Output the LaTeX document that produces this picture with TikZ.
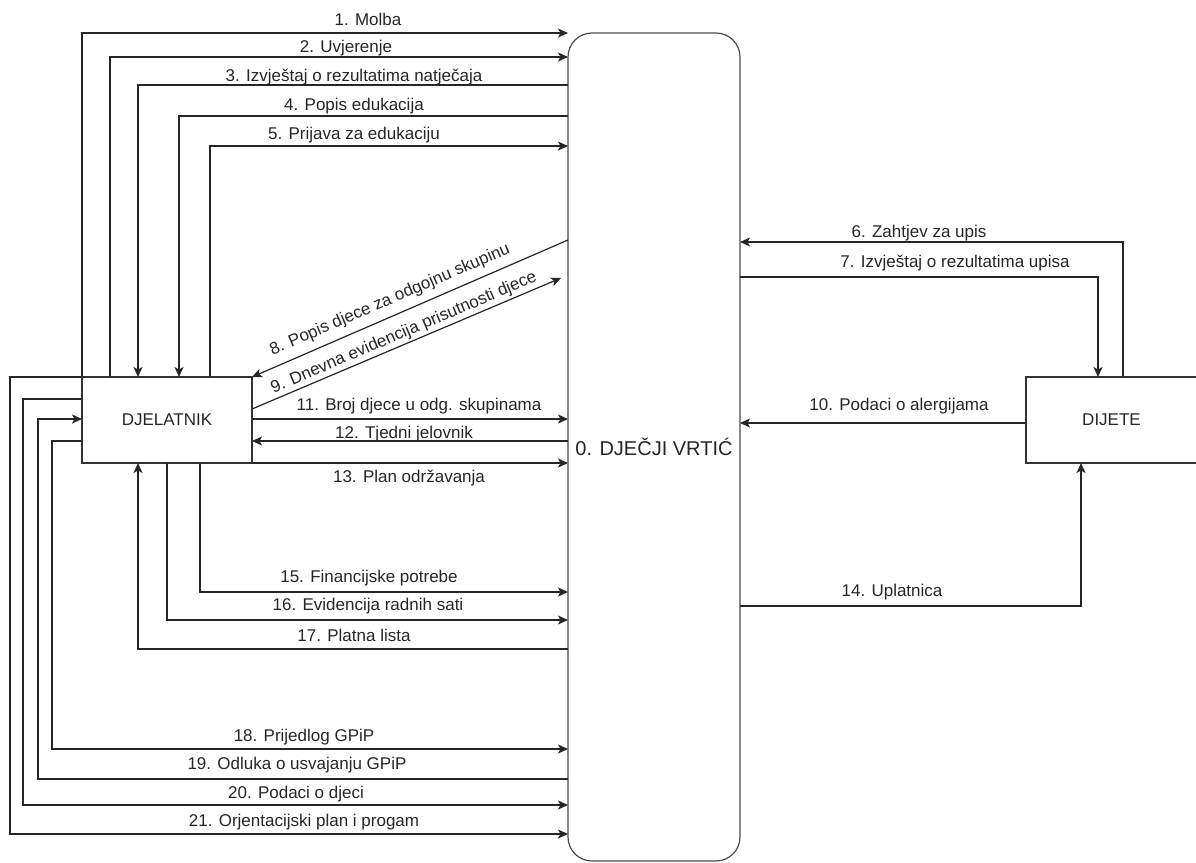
\documentclass[tikz,border=0pt]{standalone}
\usepackage{fontspec}
\setmainfont{Liberation Sans}
\usetikzlibrary{arrows.meta}
\begin{document}
\begin{tikzpicture}[x=1pt,y=-1pt,
  box/.style={draw=black!80, line width=1.2pt, inner sep=0pt, outer sep=0pt,
    minimum width=170pt, minimum height=86pt, text=black!85,
    font=\fontsize{17}{20}\selectfont},
  arr/.style={draw=black!85, line width=1.2pt, -{Stealth[length=10pt,width=9pt,inset=2.5pt]}},
  lbl/.style={inner sep=0pt, text=black!85, font=\fontsize{17}{20}\selectfont}]
\useasboundingbox (0,0) rectangle (1196,862);
\fill[white] (0,0) rectangle (1196,862);
% nodes
\node[draw=black!70, line width=1.2pt, rounded corners=24pt, minimum width=172pt,
  minimum height=828pt, inner sep=0pt, outer sep=0pt, text=black!85,
  font=\fontsize{20}{24}\selectfont] (vr) at (654,447) {0. DJEČJI VRTIĆ};
\node[box] (dj) at (167,420) {DJELATNIK};
\node[box, minimum width=171pt] (di) at (1111.5,420) {DIJETE};
% rows
\coordinate (r1) at (0,33);
\coordinate (r2) at (0,57);
\coordinate (r3) at (0,85);
\coordinate (r4) at (0,116);
\coordinate (r5) at (0,146);
\coordinate (r6) at (0,242);
\coordinate (r7) at (0,277);
\coordinate (r8) at (0,240);
\coordinate (r9) at (0,409);
\coordinate (r10) at (0,423);
\coordinate (r11) at (0,419);
\coordinate (r12) at (0,441);
\coordinate (r14) at (0,606);
\coordinate (r15) at (0,592);
\coordinate (r16) at (0,620);
\coordinate (r17) at (0,649);
\coordinate (r18) at (0,749);
\coordinate (r19) at (0,779);
\coordinate (r20a) at (0,399);
\coordinate (r20) at (0,805);
\coordinate (r21) at (0,834);
% columns
\coordinate (c10) at (10,0);
\coordinate (c23) at (23,0);
\coordinate (c38) at (38,0);
\coordinate (c52) at (52,0);
\coordinate (c110) at (110,0);
\coordinate (c138) at (138,0);
\coordinate (c167) at (167,0);
\coordinate (c179) at (179,0);
\coordinate (c200) at (200,0);
\coordinate (c210) at (210,0);
\coordinate (c1081) at (1081,0);
\coordinate (c1098) at (1098,0);
\coordinate (c1123) at (1123,0);
\coordinate (e9) at (561,278);
% connectors
\draw[arr] (dj.north west) |- (vr.west |- r1);
\draw[arr] (dj.north -| c110) |- (vr.west |- r2);
\draw[arr] (vr.west |- r3) -| (dj.north -| c138);
\draw[arr] (vr.west |- r4) -| (dj.north -| c179);
\draw[arr] (dj.north -| c210) |- (vr.west |- r5);
\draw[arr] (vr.west |- r8) -- (dj.north east);
\draw[arr] (dj.east |- r9) -- (e9);
\draw[arr] (dj.east |- r11) -- (vr.west |- r11);
\draw[arr] (vr.west |- r12) -- (dj.east |- r12);
\draw[arr] (dj.south east) -- (vr.west |- dj.south east);
\draw[arr] (dj.south -| c200) |- (vr.west |- r15);
\draw[arr] (dj.south -| c167) |- (vr.west |- r16);
\draw[arr] (vr.west |- r17) -| (dj.south -| c138);
\draw[arr] (dj.west |- r12) -| (c52 |- r18) -- (vr.west |- r18);
\draw[arr] (vr.west |- r19) -| (c38 |- r11) -- (dj.west |- r11);
\draw[arr] (dj.west |- r20a) -| (c23 |- r20) -- (vr.west |- r20);
\draw[arr] (dj.north west) -| (c10 |- r21) -- (vr.west |- r21);
\draw[arr] (di.north -| c1123) |- (vr.east |- r6);
\draw[arr] (vr.east |- r7) -| (di.north -| c1098);
\draw[arr] (di.west |- r10) -- (vr.east |- r10);
\draw[arr] (vr.east |- r14) -| (di.south -| c1081);
% labels
\node[lbl] (l1) at (368,19) {1. Molba};
\node[lbl] (l2) at (346,48) {2. Uvjerenje};
\node[lbl] (l3) at (354,77) {3. Izvještaj o rezultatima natječaja};
\node[lbl] (l4) at (354,106) {4. Popis edukacija};
\node[lbl] (l5) at (354,135) {5. Prijava za edukaciju};
\node[lbl] (l6) at (919,233) {6. Zahtjev za upis};
\node[lbl] (l7) at (955,263) {7. Izvještaj o rezultatima upisa};
\node[lbl, rotate=23.3] (l8) at (390,300) {8. Popis djece za odgojnu skupinu};
\node[lbl, rotate=23.05] (l9) at (404,333) {9. Dnevna evidencija prisutnosti djece};
\node[lbl] (l10) at (899,406) {10. Podaci o alergijama};
\node[lbl] (l11) at (419,406) {11. Broj djece u odg. skupinama};
\node[lbl] (l12) at (404,434) {12. Tjedni jelovnik};
\node[lbl] (l13) at (409,478) {13. Plan održavanja};
\node[lbl] (l14) at (892,592) {14. Uplatnica};
\node[lbl] (l15) at (369,578) {15. Financijske potrebe};
\node[lbl] (l16) at (368,606) {16. Evidencija radnih sati};
\node[lbl] (l17) at (354,635) {17. Platna lista};
\node[lbl] (l18) at (304,737) {18. Prijedlog GPiP};
\node[lbl] (l19) at (297,765) {19. Odluka o usvajanju GPiP};
\node[lbl] (l20) at (296,794) {20. Podaci o djeci};
\node[lbl] (l21) at (304,822) {21. Orjentacijski plan i progam};
\end{tikzpicture}
\end{document}
